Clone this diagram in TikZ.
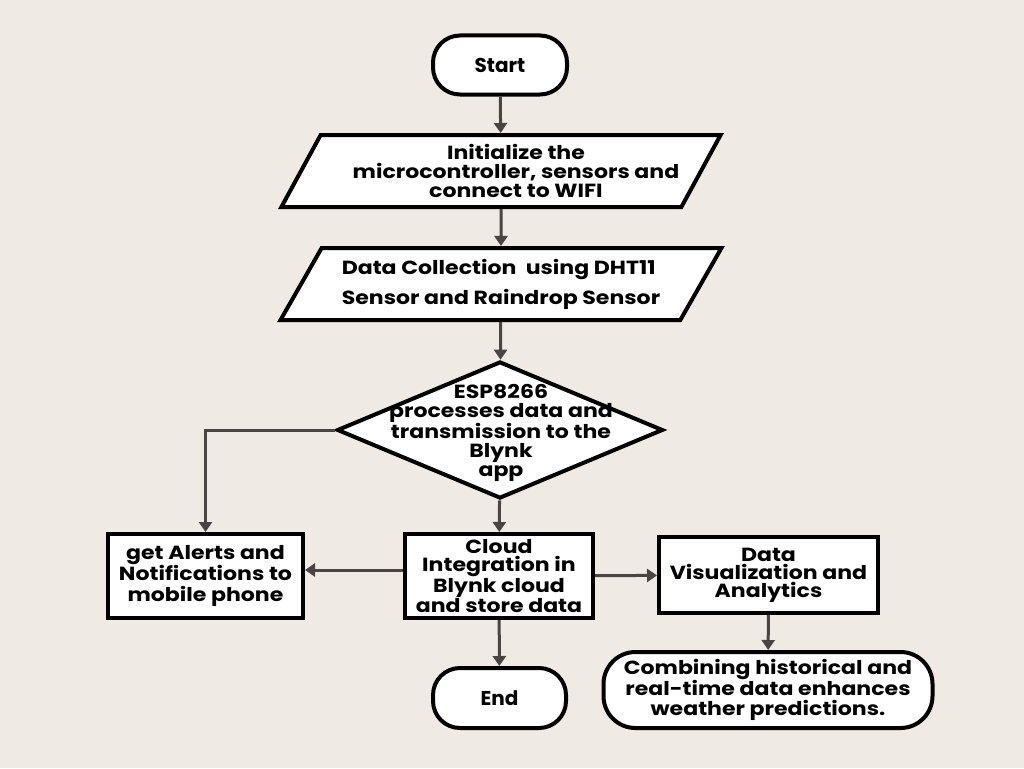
\documentclass[tikz,border=0pt]{standalone}
\usepackage{fontspec}
\setmainfont{Poppins}
\newfontfamily\wideface[FakeStretch=1.16]{Poppins}
\usetikzlibrary{shapes.geometric,arrows.meta}
\definecolor{bgcol}{HTML}{EFEAE4}
\definecolor{arrowcol}{HTML}{4A4542}
\begin{document}
\begin{tikzpicture}[x=1pt,y=-1pt,
  >={Triangle[width=13pt,length=10pt]},
  every path/.append style={line join=miter},
  term/.style={draw,line width=4pt,fill=white,rounded corners=27pt,inner sep=0pt,
    font=\bfseries\fontsize{20}{20}\selectfont,align=center},
  para/.style={draw,line width=4pt,fill=white,trapezium,trapezium left angle=54,
    trapezium right angle=126,trapezium stretches=true,inner sep=0pt,
    minimum height=72pt,font=\wideface\bfseries\fontsize{19}{19}\selectfont},
  decision/.style={draw,line width=4pt,fill=white,diamond,inner sep=0pt,
    minimum width=326pt,minimum height=137pt},
  box/.style={draw,line width=4pt,fill=white,inner sep=0pt,align=center},
  flow/.style={draw=arrowcol,line width=3pt,->}]
\fill[bgcol] (0,0) rectangle (1024,768);
\useasboundingbox (0,0) rectangle (1024,768);
%
\node[term,minimum width=134pt,minimum height=59pt](start) at (500,65) {Start};
%
\node[para,minimum width=442pt,align=center](init) at (501,171)
  {\hspace*{30pt}Initialize the\\\hspace*{30pt}microcontroller, sensors and\\\hspace*{30pt}connect to WIFI};
\draw[flow](start) -- (init);
%
\node[para,minimum width=442pt,align=left,font=\wideface\bfseries\fontsize{19}{30}\selectfont](collect) at (501,284)
  {Data Collection\ \ using DHT11\\Sensor and Raindrop Sensor};
\draw[flow](init) -- (collect);
%
\node[decision](dec) at (500,430) {};
\node[align=center,font=\wideface\bfseries\fontsize{19}{19}\selectfont](dectext) at (501,433)
  {ESP8266\\processes data and\\transmission to the\\Blynk\\app};
\draw[flow](collect) -- (dec);
%
\node[box,minimum width=195pt,minimum height=84pt,
  font=\wideface\bfseries\fontsize{19}{21}\selectfont](alert) at (205.5,576)
  {get Alerts and\\Notifications to\\mobile phone};
\draw[flow](dec.west) -| (alert.north);
%
\node[box,minimum width=188pt,minimum height=84pt,
  font=\wideface\bfseries\fontsize{19}{18}\selectfont](cloud) at (499,576)
  {Cloud\\Integration in\\Blynk cloud\\and store data};
\draw[flow](dec) -- (cloud);
\draw[flow]([yshift=6pt]cloud.west) -- ([yshift=6pt]alert.east);
%
\node[box,minimum width=219pt,minimum height=76pt,
  font=\wideface\bfseries\fontsize{19}{18}\selectfont](viz) at (768.5,575)
  {Data\\Visualization and\\Analytics};
\draw[flow](cloud) -- (viz);
%
\node[term,minimum width=329pt,minimum height=76pt,rounded corners=32pt,
  font=\wideface\bfseries\fontsize{19}{20}\selectfont](comb) at (768,690)
  {Combining historical and\\real-time data enhances\\weather predictions.};
\draw[flow](viz) -- (comb);
%
\node[term,minimum width=133pt,minimum height=60pt](end) at (499.5,698) {End};
\draw[flow](cloud) -- (end);
\end{tikzpicture}
\end{document}
